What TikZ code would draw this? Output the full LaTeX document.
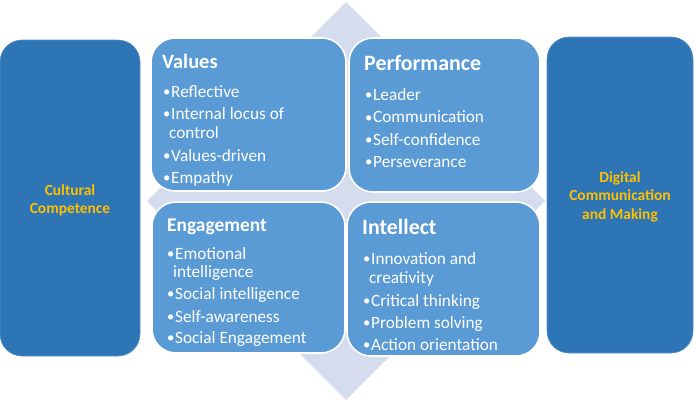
\documentclass[tikz,border=0pt]{standalone}
\usepackage{fontspec}
\setmainfont{Carlito}
\definecolor{darkbox}{HTML}{2E75B6}
\definecolor{quad}{HTML}{5B9BD5}
\definecolor{diam}{HTML}{D4DCEE}
\definecolor{gold}{HTML}{FFC000}
\tikzset{
  sidebox/.style={fill=darkbox, draw=darkbox!80!white, line width=0.6bp, rounded corners=22bp},
  quadbox/.style={fill=quad, draw=white, line width=1.6bp, rounded corners=24bp},
  title/.style={text=white, font=\fontsize{20.5}{24}\selectfont\bfseries, anchor=base west, inner sep=0pt},
  item/.style={text=white, font=\fontsize{17.3}{20}\selectfont, anchor=base west, inner sep=0pt},
  side/.style={text=gold, font=\fontsize{15.5}{19}\selectfont\bfseries, anchor=base, inner sep=0pt}
}
\newcommand{\bul}[1]{\makebox[8bp][l]{\raisebox{0.5bp}{\scalebox{0.85}{•}}}#1}
\begin{document}
\begin{tikzpicture}[x=1bp,y=-1bp]
\useasboundingbox (0,0) rectangle (696,402);
% diamond
\fill[diam] (346,2) -- (545,201) -- (346,400) -- (147,201) -- cycle;
% side boxes
\draw[sidebox] (0,40) rectangle (140,356);
\draw[sidebox] (547,37) rectangle (693,353);
% quadrants
\draw[quadbox] (151,38) rectangle (346,191);
\draw[quadbox] (349,38) rectangle (540,192);
\draw[quadbox] (152,202) rectangle (345,353);
\draw[quadbox] (347,202) rectangle (540,356);
% side texts
\node[side] (c1) at (70,195) {Cultural};
\node[side] (c2) at (70,213) {Competence};
\node[side] (d1) at (620,182) {Digital};
\node[side] (d2) at (620,200) {Communication};
\node[side] (d3) at (620,219) {and Making};
% Values
\node[title] (vt) at (162,68) {Values};
\node[item] (v1) at (163,97) {\bul{Reflective}};
\node[item] (v2) at (163,119) {\bul{Internal locus of}};
\node[item] (v3) at (169,138) {control};
\node[item] (v4) at (163,161) {\bul{Values-driven}};
\node[item] (v5) at (163,183) {\bul{Empathy}};
% Performance
\node[title, font=\fontsize{22}{26}\selectfont\bfseries] (pt) at (364,70) {Performance};
\node[item] (p1) at (365,100) {\bul{Leader}};
\node[item] (p2) at (365,122.5) {\bul{Communication}};
\node[item] (p3) at (365,145) {\bul{Self-confidence}};
\node[item] (p4) at (365,167) {\bul{Perseverance}};
% Engagement
\node[title, font=\fontsize{19.5}{23}\selectfont\bfseries] (et) at (167,231) {Engagement};
\node[item] (e1) at (167,259) {\bul{Emotional}};
\node[item] (e2) at (173,277) {intelligence};
\node[item] (e3) at (167,299) {\bul{Social intelligence}};
\node[item] (e4) at (167,322) {\bul{Self-awareness}};
\node[item] (e5) at (167,343) {\bul{Social Engagement}};
% Intellect
\node[title, font=\fontsize{22}{26}\selectfont\bfseries] (it) at (362,234) {Intellect};
\node[item] (i1) at (363,264) {\bul{Innovation and}};
\node[item] (i2) at (369,283) {creativity};
\node[item] (i3) at (363,306) {\bul{Critical thinking}};
\node[item] (i4) at (363,328) {\bul{Problem solving}};
\node[item] (i5) at (363,350) {\bul{Action orientation}};
\end{tikzpicture}
\end{document}
